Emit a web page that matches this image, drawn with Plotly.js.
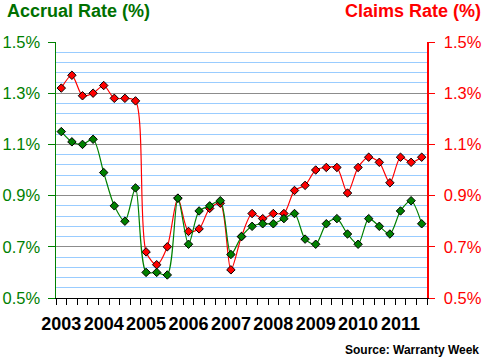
<!DOCTYPE html>
<html>
<head>
<meta charset="utf-8">
<script src="https://cdn.plot.ly/plotly-3.0.1.min.js"></script>
<style>
  html, body { margin: 0; padding: 0; background: #ffffff; }
  #chart { width: 486px; height: 362px; }
</style>
</head>
<body>
<div id="chart"></div>
<script>
// Quarterly data, 2003 Q1 through 2011 Q3
const years = ["2003","2004","2005","2006","2007","2008","2009","2010","2011"];
const quarters = [];
years.forEach(y => ["Q1","Q2","Q3","Q4"].forEach(q => quarters.push(y + " " + q)));
quarters.length = 35;

const claimsRate = [1.32,1.37,1.29,1.30,1.33,1.28,1.28,1.27,0.68,0.63,0.70,0.89,0.76,0.77,0.85,0.87,0.61,0.74,0.83,0.81,0.83,0.83,0.92,0.94,1.00,1.01,1.01,0.91,1.01,1.05,1.03,0.95,1.05,1.03,1.05];
const accrualRate = [1.15,1.11,1.10,1.12,0.99,0.86,0.80,0.93,0.60,0.60,0.59,0.89,0.71,0.84,0.86,0.88,0.67,0.74,0.78,0.79,0.79,0.81,0.83,0.73,0.71,0.79,0.81,0.75,0.71,0.81,0.78,0.75,0.84,0.88,0.79];

const xIdx = quarters.map((q, i) => i);
const yearTickVals = years.map(y => quarters.indexOf(y + " Q1"));

const GREEN = "#008000";
const RED = "#ff0000";
const FONT = "Liberation Sans, Arial, sans-serif";

const traces = [
  {
    x: xIdx, y: claimsRate, text: quarters, name: "Claims Rate",
    type: "scatter", mode: "lines+markers",
    line: { color: RED, width: 1.2, shape: "spline", smoothing: 0.8 },
    marker: { symbol: "diamond", size: 6.5, color: RED, line: { color: "#000000", width: 1 } },
    yaxis: "y", hoverinfo: "text+y"
  },
  {
    x: xIdx, y: accrualRate, text: quarters, name: "Accrual Rate",
    type: "scatter", mode: "lines+markers",
    line: { color: GREEN, width: 1.2, shape: "spline", smoothing: 0.8 },
    marker: { symbol: "diamond", size: 6.5, color: GREEN, line: { color: "#000000", width: 1 } },
    yaxis: "y", hoverinfo: "text+y"
  },
  {
    x: [xIdx[0]], y: [claimsRate[0]], yaxis: "y2", type: "scatter", mode: "markers",
    marker: { opacity: 0 }, hoverinfo: "skip", showlegend: false
  }
];

const layout = {
  width: 486, height: 362,
  margin: { l: 56, r: 59, t: 42, b: 64, pad: 0 },
  paper_bgcolor: "#ffffff", plot_bgcolor: "#ffffff",
  showlegend: false,
  font: { family: FONT, color: "#000000" },
  xaxis: {
    range: [-0.5, 34.5], zeroline: false, showgrid: false,
    showline: true, linecolor: "#000000", linewidth: 1,
    tickmode: "array", tickvals: yearTickVals, ticktext: years,
    ticks: "", ticklabelstandoff: 9,
    tickfont: { family: FONT, size: 18, color: "#000000", weight: "bold" },
    minor: { tickmode: "linear", tick0: -0.5, dtick: 1, ticks: "outside", ticklen: 6, tickcolor: "#000000", tickwidth: 1, showgrid: false }
  },
  yaxis: {
    range: [0.5, 1.5], dtick: 0.2, tick0: 0.5, tickformat: ".1f", ticksuffix: "%",
    zeroline: false, showgrid: true, gridcolor: "#8c8c8c", gridwidth: 1,
    showline: true, linecolor: GREEN, linewidth: 1.5,
    ticks: "outside", ticklen: 7, tickcolor: GREEN, ticklabelstandoff: 4,
    tickfont: { family: FONT, size: 16.5, color: GREEN },
    minor: { dtick: 0.04, tick0: 0.5, showgrid: true, gridcolor: "#99ccff", gridwidth: 1, ticks: "" }
  },
  yaxis2: {
    overlaying: "y", side: "right",
    range: [0.5, 1.5], dtick: 0.2, tick0: 0.5, tickformat: ".1f", ticksuffix: "%",
    zeroline: false, showgrid: false,
    showline: true, linecolor: RED, linewidth: 1.5,
    ticks: "outside", ticklen: 6, tickcolor: RED, ticklabelstandoff: 6,
    tickfont: { family: FONT, size: 16.5, color: RED }
  },
  annotations: [
    { text: "Accrual Rate (%)", xref: "paper", yref: "paper", x: -0.1375, y: 1.12,
      xanchor: "left", yanchor: "middle", showarrow: false,
      font: { family: FONT, size: 18, color: "#007000", weight: "bold" } },
    { text: "Claims Rate (%)", xref: "paper", yref: "paper", x: 1.151, y: 1.12,
      xanchor: "right", yanchor: "middle", showarrow: false,
      font: { family: FONT, size: 18, color: RED, weight: "bold" } },
    { text: "Source: Warranty Week", xref: "paper", yref: "paper", x: 1.146, y: -0.203,
      xanchor: "right", yanchor: "middle", showarrow: false,
      font: { family: FONT, size: 12, color: "#000000", weight: "bold" } }
  ]
};

Plotly.newPlot("chart", traces, layout, { displayModeBar: false, staticPlot: true });
</script>
</body>
</html>
